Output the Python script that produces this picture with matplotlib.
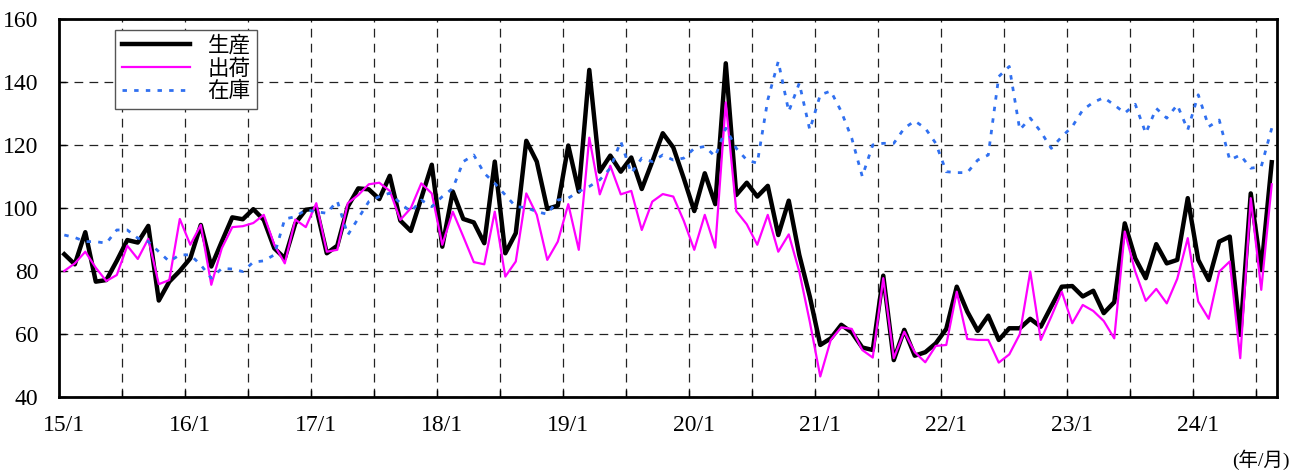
import matplotlib.pyplot as plt
import numpy as np
from matplotlib.ticker import FixedLocator, NullFormatter

plt.rcParams['font.family'] = ['Liberation Serif', 'Noto Sans CJK JP']

# monthly index, 2015/1 - 2024/8
prod = [85.3, 82.1, 92.3, 76.6, 77.1, 83.2, 89.8, 89.0, 94.3, 70.6, 76.6, 80.0,
        84.0, 94.6, 81.4, 89.3, 97.0, 96.4, 99.6, 96.2, 87.2, 84.0, 95.1, 99.4,
        99.9, 85.6, 88.0, 100.4, 106.2, 105.9, 102.8, 110.2, 96.0, 92.7, 103.1, 113.7,
        87.7, 105.2, 96.5, 95.4, 88.8, 114.7, 85.6, 92.0, 121.3, 114.7, 99.7, 100.7,
        119.8, 105.2, 143.8, 111.5, 116.6, 111.5, 116.0, 106.0, 114.7, 123.7, 119.2, 109.4,
        99.0, 111.0, 101.2, 145.9, 104.1, 108.0, 103.6, 107.0, 91.4, 102.3, 85.1, 71.9,
        56.5, 58.6, 62.9, 60.5, 55.7, 54.9, 78.5, 51.7, 61.3, 53.1, 54.2, 57.0,
        61.6, 75.0, 67.1, 61.0, 65.8, 58.1, 61.8, 61.8, 64.8, 62.3, 68.7, 75.0,
        75.2, 71.9, 73.7, 66.6, 70.1, 95.1, 84.0, 77.7, 88.5, 82.4, 83.5, 103.1,
        83.5, 77.1, 89.3, 90.9, 59.7, 104.6, 80.3, 114.5]

ship = [80.0, 82.4, 86.1, 81.0, 76.8, 78.7, 88.0, 83.8, 90.2, 75.8, 77.1, 96.5,
        88.3, 94.6, 75.6, 87.2, 93.9, 94.2, 95.2, 97.8, 88.3, 82.4, 96.3, 93.9,
        101.5, 86.1, 86.7, 101.5, 104.1, 107.5, 108.0, 105.4, 96.2, 99.9, 107.8, 104.6,
        88.3, 98.8, 90.9, 82.8, 82.1, 98.8, 78.2, 83.0, 104.6, 97.8, 83.5, 89.3,
        101.2, 86.7, 122.3, 104.3, 113.4, 104.3, 105.4, 93.0, 102.0, 104.4, 103.6, 95.9,
        86.7, 97.8, 87.4, 133.5, 99.0, 94.8, 88.3, 97.8, 86.1, 91.6, 79.8, 63.9,
        46.5, 58.1, 62.1, 61.6, 54.9, 52.5, 77.7, 52.3, 60.7, 54.2, 51.0, 56.2,
        56.5, 73.4, 58.4, 58.1, 58.1, 50.9, 53.5, 59.9, 79.8, 58.1, 65.5, 73.4,
        63.4, 69.2, 67.3, 64.1, 58.6, 92.5, 79.8, 70.5, 74.3, 69.7, 77.5, 90.4,
        70.3, 64.8, 79.8, 83.0, 52.3, 103.1, 74.0, 107.5]

inv = [91.4, 90.6, 89.3, 89.3, 88.8, 93.0, 93.0, 90.4, 89.3, 86.1, 83.0, 85.1,
       85.1, 81.9, 77.7, 80.8, 80.6, 79.8, 82.8, 83.2, 85.1, 96.5, 97.2, 99.4,
       98.8, 98.3, 102.2, 91.4, 96.7, 102.0, 103.6, 104.7, 101.5, 98.8, 102.5, 100.4,
       103.6, 106.2, 114.7, 116.8, 111.0, 107.8, 104.1, 100.4, 100.1, 98.8, 98.0, 102.5,
       103.1, 105.2, 106.8, 108.9, 112.6, 121.1, 111.0, 115.8, 114.7, 116.8, 115.2, 115.8,
       118.9, 119.5, 116.3, 125.3, 118.9, 115.2, 114.2, 134.3, 146.5, 130.6, 139.6, 124.8,
       135.9, 137.1, 130.6, 122.1, 110.0, 120.0, 120.5, 120.5, 125.3, 127.6, 125.3, 120.5,
       111.5, 111.2, 111.2, 115.2, 116.8, 141.7, 144.9, 124.8, 128.5, 124.2, 118.9, 122.6,
       125.8, 131.1, 133.5, 135.0, 132.7, 130.1, 132.9, 123.7, 131.6, 128.5, 132.7, 124.8,
       135.9, 125.8, 127.9, 115.2, 116.8, 112.6, 113.1, 125.3]

years = ['15/1', '16/1', '17/1', '18/1', '19/1', '20/1', '21/1', '22/1', '23/1', '24/1']


def main():
    fig = plt.figure(figsize=(12.95, 4.72), dpi=100)
    ax = fig.add_axes([0.0456, 0.159, 0.9405, 0.801])

    x = np.arange(len(prod)) + 0.5
    ax.plot(x, prod, color='black', linewidth=3.2, label='生産', zorder=3)
    ax.plot(x, ship, color='#ff00ff', linewidth=1.6, label='出荷', zorder=4)
    ax.plot(x, inv, color='#3070f0', linewidth=2.0, linestyle=(0, (1.6, 2.6)),
            label='在庫', zorder=5)

    ax.set_xlim(0, 116)
    ax.set_ylim(40, 160)
    ax.set_yticks(range(40, 161, 20))

    # grid every 6 months, labels at each January
    ax.xaxis.set_major_locator(FixedLocator(np.arange(6, 116, 6)))
    ax.xaxis.set_major_formatter(NullFormatter())
    ax.xaxis.set_minor_locator(FixedLocator(np.arange(len(years)) * 12 + 0.5))
    ax.set_xticklabels(years, minor=True)
    ax.tick_params(axis='x', which='minor', length=0, pad=13, labelsize=17)
    ax.tick_params(axis='x', which='major', direction='in', length=5, width=1)
    ax.tick_params(axis='y', direction='in', length=5, width=1, labelsize=17, pad=15)

    ax.grid(True, which='major', color='#222222', linestyle=(0, (7, 5)), linewidth=0.9)
    ax.set_axisbelow(True)
    for s in ax.spines.values():
        s.set_linewidth(2.0)

    leg = ax.legend(loc='upper left', bbox_to_anchor=(0.046, 0.971), borderaxespad=0,
                    fontsize=15.5, handlelength=3.2, handletextpad=0.8, borderpad=0.3,
                    labelspacing=0.12, fancybox=False, framealpha=1)
    leg.get_frame().set_edgecolor('#555555')
    leg.get_frame().set_linewidth(1.0)

    fig.text(0.996, 0.004, '(年/月)', ha='right', va='bottom', fontsize=14)

    fig.savefig('out.png', dpi=100)


main()
